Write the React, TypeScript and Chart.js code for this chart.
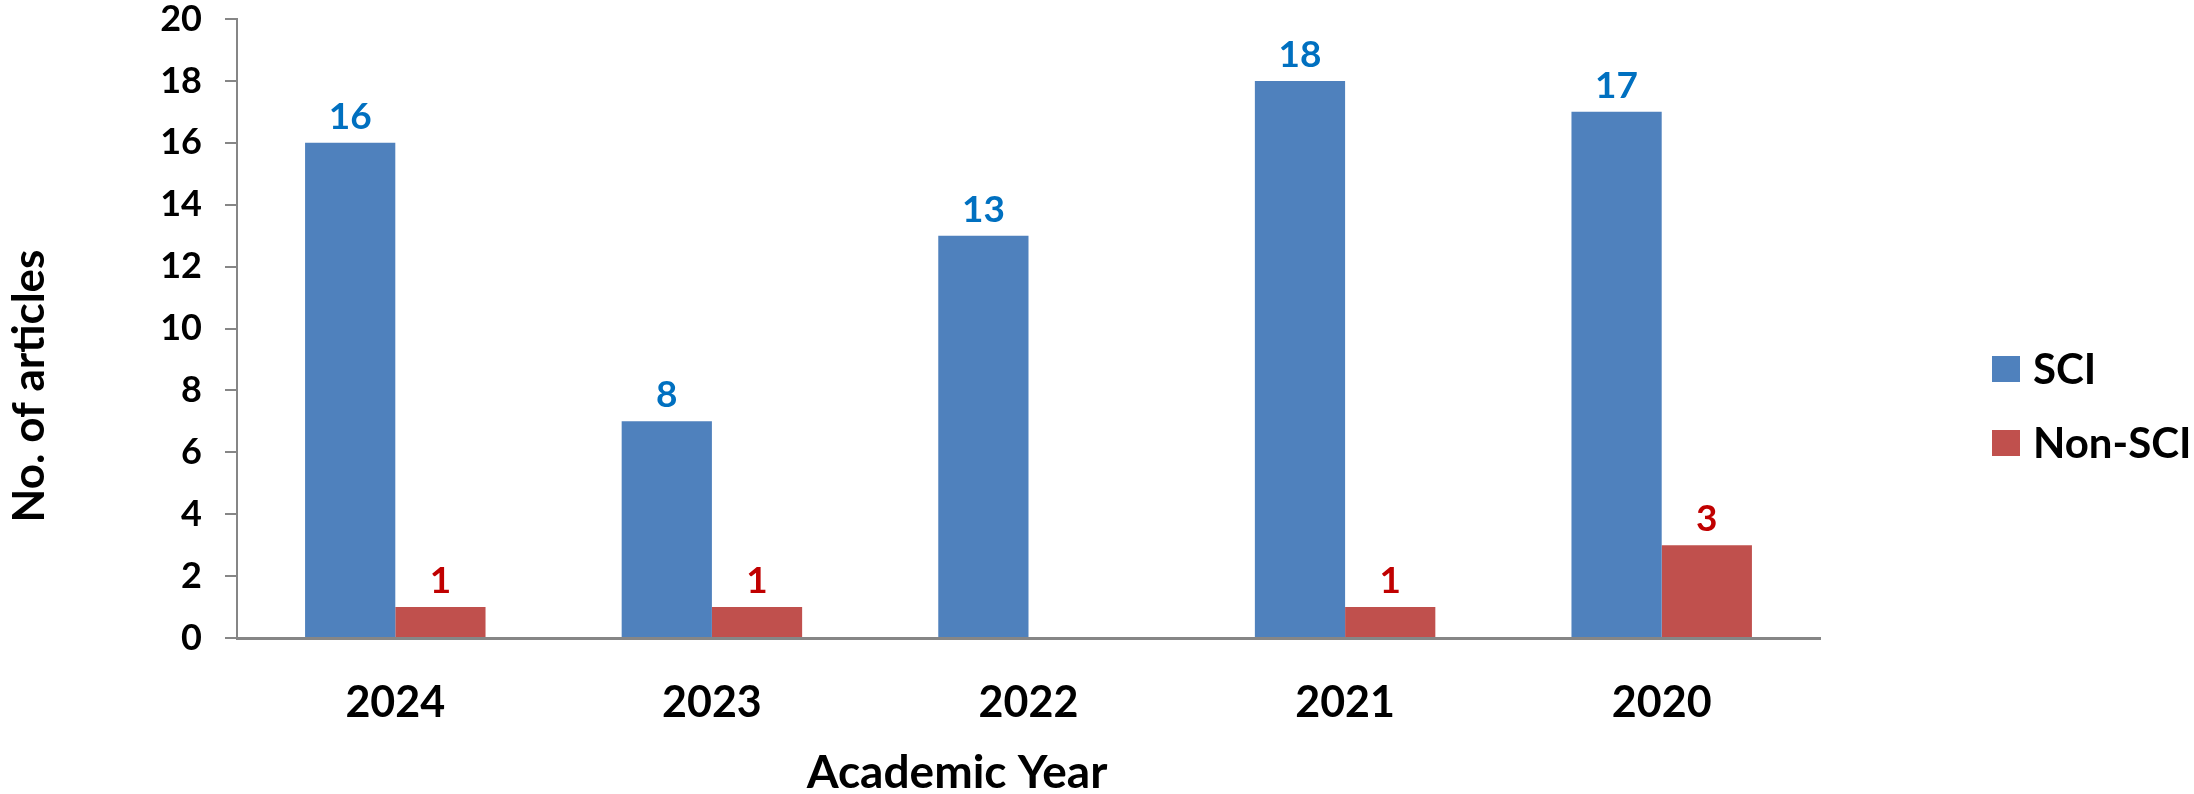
import React, { useEffect, useRef } from "react";
import { Chart, registerables } from "chart.js";

Chart.register(...registerables);

const categories = ["2024", "2023", "2022", "2021", "2020"];
const sciValues = [16, 7, 13, 18, 17];
const nonSciValues = [1, 1, 0, 1, 3];
const sciLabels = ["16", "8", "13", "18", "17"];
const nonSciLabels = ["1", "1", "", "1", "3"];
const seriesNames = ["SCI", "Non-SCI"];
const yTicks = [0, 2, 4, 6, 8, 10, 12, 14, 16, 18, 20];

const FONT = "Lato, 'Noto Sans', sans-serif";
const SCI_COLOR = "#4F81BD";
const NON_COLOR = "#C0504D";
const AXIS_COLOR = "#868686";

const W = 2194;
const H = 794;

const decorPlugin = {
  id: "decor",
  afterDatasetsDraw(chart: any) {
    const ctx = chart.ctx;
    const labelSets = [sciLabels, nonSciLabels];
    const labelColors = ["#0070C0", "#C00000"];
    ctx.save();
    ctx.font = `bold 37px ${FONT}`;
    ctx.textAlign = "center";
    ctx.textBaseline = "alphabetic";
    chart.data.datasets.forEach((_ds: any, di: number) => {
      const meta = chart.getDatasetMeta(di);
      meta.data.forEach((bar: any, i: number) => {
        const txt = labelSets[di][i];
        if (!txt) return;
        ctx.fillStyle = labelColors[di];
        ctx.fillText(txt, bar.x, bar.y - 14);
      });
    });
    ctx.restore();
  },
  afterDraw(chart: any) {
    const ctx = chart.ctx;
    ctx.save();
    ctx.fillStyle = "#000";
    ctx.font = `bold 44px ${FONT}`;
    ctx.textAlign = "center";
    ctx.textBaseline = "middle";
    ctx.translate(30, 386);
    ctx.rotate(-Math.PI / 2);
    ctx.fillText("No. of articles", 0, 0);
    ctx.restore();

    ctx.save();
    ctx.fillStyle = "#000";
    ctx.font = `bold 46px ${FONT}`;
    ctx.textAlign = "center";
    ctx.textBaseline = "middle";
    ctx.fillText("Academic Year", 957, 773);
    ctx.restore();

    ctx.save();
    const colors = [SCI_COLOR, NON_COLOR];
    const rowsY = [369, 443];
    ctx.font = `bold 42px ${FONT}`;
    ctx.textAlign = "left";
    ctx.textBaseline = "middle";
    seriesNames.forEach((name, i) => {
      ctx.fillStyle = colors[i];
      ctx.fillRect(1992, rowsY[i] - 13, 28, 26);
      ctx.fillStyle = "#000";
      ctx.fillText(name, 2033, rowsY[i] + 1);
    });
    ctx.restore();
  },
};

export default function App() {
  const ref = useRef<HTMLCanvasElement>(null);
  useEffect(() => {
    if (!ref.current) return;
    const chart = new Chart(ref.current, {
      type: "bar",
      data: {
        labels: categories,
        datasets: [
          {
            label: seriesNames[0],
            data: sciValues,
            backgroundColor: SCI_COLOR,
            categoryPercentage: 0.57,
            barPercentage: 1.0,
          },
          {
            label: seriesNames[1],
            data: nonSciValues,
            backgroundColor: NON_COLOR,
            categoryPercentage: 0.57,
            barPercentage: 1.0,
          },
        ],
      },
      options: {
        responsive: false,
        animation: false,
        layout: { autoPadding: false, padding: { left: 0, top: 19, right: W - 1820, bottom: 0 } },
        plugins: {
          legend: { display: false },
          tooltip: { enabled: false },
          title: { display: false },
        },
        scales: {
          x: {
            grid: { drawOnChartArea: false, drawTicks: false },
            border: { display: true, color: AXIS_COLOR, width: 3 },
            ticks: {
              color: "#000",
              font: { family: FONT, size: 43, weight: "bold" },
              padding: 39,
            },
            afterFit(scale: any) {
              scale.height = H - 638;
              scale.paddingLeft = 0;
              scale.paddingRight = 0;
            },
          },
          y: {
            min: 0,
            max: 20,
            afterBuildTicks(scale: any) {
              scale.ticks = yTicks.map((v) => ({ value: v }));
            },
            grid: {
              drawOnChartArea: false,
              drawTicks: true,
              tickLength: 12,
              color: AXIS_COLOR,
              lineWidth: 2,
            },
            border: { display: true, color: AXIS_COLOR, width: 2 },
            ticks: {
              color: "#000",
              font: { family: FONT, size: 36, weight: "bold", lineHeight: 1.0 },
              padding: 23,
            },
            afterFit(scale: any) {
              scale.width = 237;
              scale.paddingTop = 0;
              scale.paddingBottom = 0;
            },
          },
        },
      },
      plugins: [decorPlugin],
    });
    return () => chart.destroy();
  }, []);
  return (
    <div style={{ position: "absolute", left: 0, top: 0, width: W, height: H, background: "#fff" }}>
      <canvas ref={ref} width={W} height={H} style={{ display: "block" }} />
    </div>
  );
}
